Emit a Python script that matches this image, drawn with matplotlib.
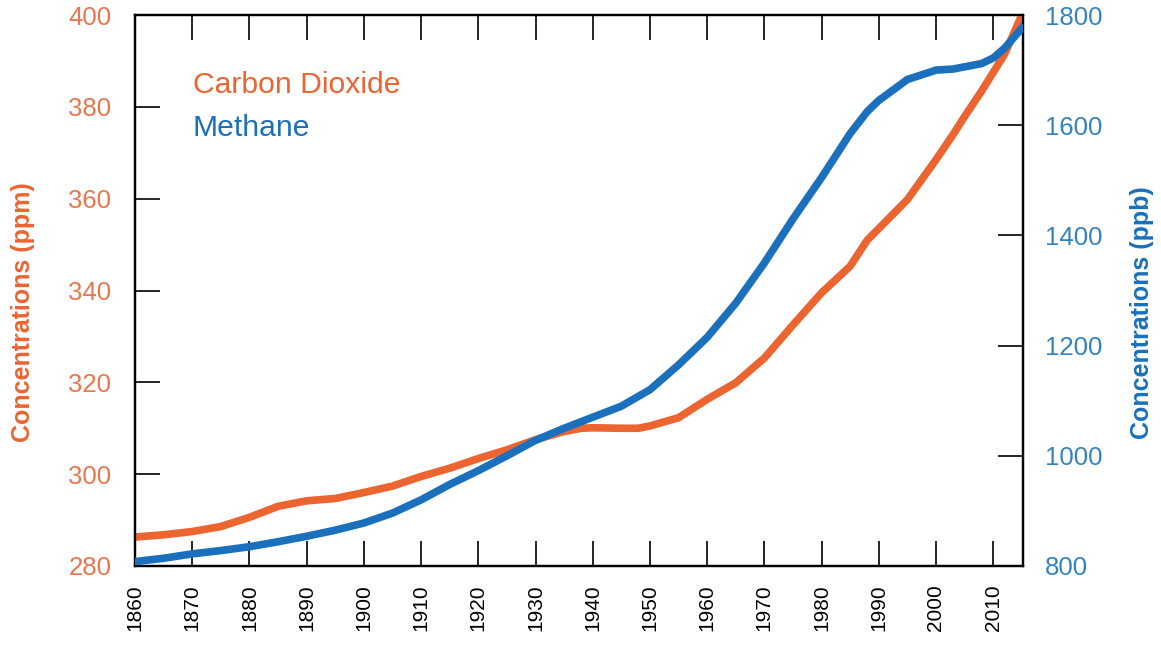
import matplotlib
matplotlib.use('Agg')
import matplotlib.pyplot as plt

years = [1860, 1865, 1870, 1875, 1880, 1885, 1890, 1895, 1900, 1905,
         1910, 1915, 1920, 1925, 1930, 1935, 1938, 1940, 1945, 1948,
         1950, 1955, 1960, 1965, 1970, 1975, 1980, 1985, 1988, 1990,
         1995, 2000, 2003, 2005, 2008, 2010, 2012, 2015]
co2_ppm = [286.3, 286.8, 287.5, 288.6, 290.6, 293.0, 294.2, 294.7, 296.0, 297.4,
           299.5, 301.3, 303.4, 305.3, 307.5, 309.3, 310.0, 310.1, 310.0, 310.0,
           310.5, 312.3, 316.3, 319.9, 325.3, 332.5, 339.5, 345.3, 351.0, 353.5,
           359.8, 368.5, 374.0, 377.9, 383.5, 387.5, 391.5, 400.0]
ch4_ppb = [808, 814, 822, 828, 835, 844, 854, 865, 878, 896,
           920, 948, 973, 1000, 1028, 1050, 1062, 1070, 1090, 1108,
           1120, 1165, 1215, 1277, 1350, 1430, 1505, 1585, 1625, 1645,
           1683, 1700, 1702, 1706, 1712, 1722, 1740, 1776]

x_ticks = list(range(1860, 2011, 10))
left_ticks = [280, 300, 320, 340, 360, 380, 400]
right_ticks = [800, 1000, 1200, 1400, 1600, 1800]

ORANGE = '#EC6430'
BLUE = '#1A70BC'
ORANGE_TXT = '#E9764E'
BLUE_TXT = '#3483C0'

plt.rcParams['font.family'] = ['Liberation Sans', 'DejaVu Sans']

fig = plt.figure(figsize=(11.61, 6.45), dpi=100)
ax = fig.add_axes([0.1163, 0.1225, 0.7648, 0.8542])
ax2 = ax.twinx()

ax.plot(years, co2_ppm, color=ORANGE, lw=5.5, solid_joinstyle='round', zorder=3)
ax2.plot(years, ch4_ppb, color=BLUE, lw=5.5, solid_joinstyle='round', zorder=3)

ax.set_xlim(1860, 2015.2)
ax.set_ylim(280, 400)
ax2.set_ylim(800, 1800)

ax.set_xticks(x_ticks)
ax.set_xticklabels([str(y) for y in x_ticks], rotation=90)
ax.set_yticks(left_ticks)
ax2.set_yticks(right_ticks)

ax.tick_params(axis='x', direction='in', length=18, width=1.2, top=True,
               labelsize=15, pad=13, colors='black')
ax.tick_params(axis='y', direction='in', length=18, width=1.2,
               labelsize=18.5, pad=17, labelcolor=ORANGE_TXT)
ax2.tick_params(axis='y', direction='in', length=18, width=1.2,
                labelsize=18.5, pad=16, labelcolor=BLUE_TXT)

for a in (ax, ax2):
    for s in a.spines.values():
        s.set_linewidth(1.6)

ax.set_ylabel('Concentrations (ppm)', color=ORANGE, fontsize=18,
              fontweight='bold')
ax.yaxis.set_label_coords(-0.113, 0.46)
ax2.set_ylabel('Concentrations (ppb)', color=BLUE, fontsize=18,
               fontweight='bold')
ax2.yaxis.set_label_coords(1.121, 0.46)

ax.text(0.065, 0.873, 'Carbon Dioxide', transform=ax.transAxes,
        color=ORANGE, fontsize=21.7, va='center', ha='left')
ax.text(0.065, 0.795, 'Methane', transform=ax.transAxes,
        color=BLUE, fontsize=21.7, va='center', ha='left')

fig.savefig('out.png', dpi=100)
